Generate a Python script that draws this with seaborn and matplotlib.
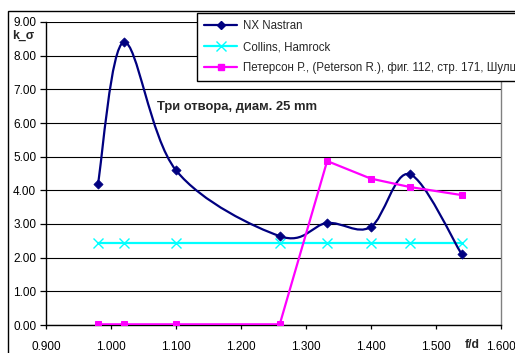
import numpy as np
import pandas as pd
import seaborn as sns
import matplotlib
matplotlib.use("Agg")
import matplotlib.pyplot as plt
from matplotlib.path import Path
from matplotlib.patches import PathPatch, Rectangle
from matplotlib.lines import Line2D
import matplotlib.transforms as mtransforms

# ---- data ----
x_vals = [0.98, 1.02, 1.10, 1.26, 1.333, 1.40, 1.46, 1.54]
nx_nastran = [4.19, 8.40, 4.60, 2.64, 3.03, 2.91, 4.48, 2.11]
collins = [2.45, 2.45, 2.45, 2.45, 2.45, 2.45, 2.45, 2.45]
peterson = [0.02, 0.02, 0.02, 0.02, 4.87, 4.35, 4.10, 3.86]
series_names = ["NX Nastran", "Collins, Hamrock",
                "Петерсон Р., (Peterson R.), фиг. 112, стр. 171, Шулц"]
y_ticks = [0, 1, 2, 3, 4, 5, 6, 7, 8, 9]
x_ticks = [0.9, 1.0, 1.1, 1.2, 1.3, 1.4, 1.5, 1.6]
annotation = "Три отвора, диам. 25 mm"
y_label = "k_σ"
x_label = "f/d"

NAVY = "#000080"
CYAN = "#00FFFF"
MAGENTA = "#FF00FF"

sns.set_style("white")
plt.rcParams["font.family"] = ["Liberation Sans", "DejaVu Sans"]

W, H = 515, 353
fig = plt.figure(figsize=(W / 100, H / 100), dpi=100)
ax = fig.add_axes([46 / W, (H - 325) / H, 454.5 / W, 303 / H])

df = pd.DataFrame({"x": x_vals, "nx": nx_nastran, "col": collins, "pet": peterson})

ax.set_xlim(0.9, 1.6)
ax.set_ylim(0, 9)
ax.set_yticks(y_ticks)
ax.set_xticks(x_ticks)
ax.set_yticklabels([f"{v:.2f}" for v in y_ticks])
ax.set_xticklabels([f"{v:.3f}" for v in x_ticks])
ax.yaxis.grid(True, color="black", lw=0.8, zorder=0)
ax.xaxis.grid(False)
ax.set_axisbelow(True)

# NX Nastran: Excel-style smoothed line (Catmull-Rom Bezier) through the data points
pts = np.column_stack([df["x"].to_numpy(), df["nx"].to_numpy()])
n = len(pts)
verts = [tuple(pts[0])]
codes = [Path.MOVETO]
for i in range(n - 1):
    p0 = pts[i - 1] if i > 0 else pts[i]
    p1 = pts[i]
    p2 = pts[i + 1]
    p3 = pts[i + 2] if i + 2 < n else pts[i + 1]
    c1 = p1 + (p2 - p0) / 6.0
    c2 = p2 - (p3 - p1) / 6.0
    verts += [tuple(c1), tuple(c2), tuple(p2)]
    codes += [Path.CURVE4] * 3
ax.add_patch(PathPatch(Path(verts, codes), facecolor="none", edgecolor=NAVY,
                       lw=1.6, zorder=4, capstyle="round", joinstyle="round"))
sns.scatterplot(data=df, x="x", y="nx", marker="D", s=22, color=NAVY,
                edgecolor=NAVY, linewidth=0.5, ax=ax, zorder=5, legend=False)

# Collins, Hamrock
sns.lineplot(data=df, x="x", y="col", color=CYAN, lw=1.6, marker="x", ms=6.5,
             mew=1.0, mec=CYAN, ax=ax, zorder=3, legend=False)
# Peterson
sns.lineplot(data=df, x="x", y="pet", color=MAGENTA, lw=1.6, marker="s", ms=4.3,
             mec=MAGENTA, ax=ax, zorder=4, legend=False)

ax.set_xlabel("")
ax.set_ylabel("")

for s in ["left", "bottom"]:
    ax.spines[s].set_color("black")
    ax.spines[s].set_linewidth(1.0)
ax.spines["right"].set_color("#808080")
ax.spines["right"].set_linewidth(1.0)
ax.spines["top"].set_visible(False)

ax.tick_params(axis="y", direction="out", length=4.0, width=0.9, pad=3.0,
               labelsize=8.5, colors="black", left=True)
ax.tick_params(axis="x", direction="out", length=3.0, width=0.9, pad=8.5,
               labelsize=8.5, colors="black", bottom=True)

# annotation text
ax.text(1.071, 6.47, annotation, fontsize=9.4, fontweight="bold",
        ha="left", va="center", zorder=6)
# axis labels as in Excel
trans = mtransforms.blended_transform_factory(ax.transData, ax.transAxes)
ax.text(1.556, -0.066, x_label, transform=trans, fontsize=8.8,
        fontweight="bold", ha="center", va="center")
fig.text(12 / W, 1 - 36 / H, y_label, fontsize=8.8, fontweight="bold",
         ha="left", va="center")

# legend (its long last label runs past the right edge, as in the original)
handles = [
    Line2D([], [], color=NAVY, lw=1.6, marker="D", ms=4.2),
    Line2D([], [], color=CYAN, lw=1.6, marker="x", ms=6.5, mew=1.0),
    Line2D([], [], color=MAGENTA, lw=1.6, marker="s", ms=4.3),
]
leg = fig.legend(handles, series_names, loc="upper left",
                 bbox_to_anchor=(197 / W, 1 - 13 / H), borderaxespad=0,
                 fontsize=8.3, frameon=True, fancybox=False, framealpha=1,
                 edgecolor="black", handlelength=2.9, handletextpad=0.45,
                 borderpad=0.6, labelspacing=0.8)
leg.get_frame().set_linewidth(1.0)
leg.set_zorder(10)

# outer chart border (cropped at right/bottom)
fig.patches.append(Rectangle((8 / W, -0.2), 1.2, 1.2 - 11 / H,
                             transform=fig.transFigure, fill=False,
                             edgecolor="black", lw=1.0))

fig.savefig("out.png", dpi=100)
